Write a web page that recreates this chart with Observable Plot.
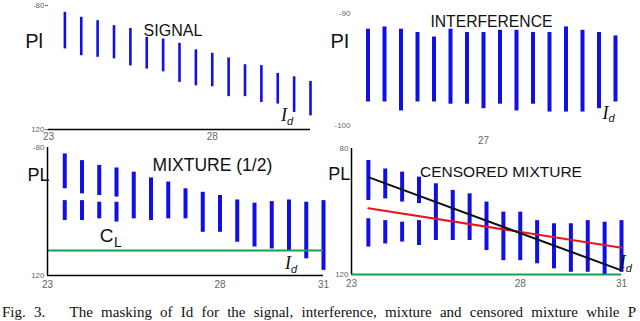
<!DOCTYPE html>
<html><head><meta charset="utf-8">
<script src="https://cdn.jsdelivr.net/npm/d3@7"></script>
<script src="https://cdn.jsdelivr.net/npm/@observablehq/plot@0.6"></script>
<style>
html,body{margin:0;padding:0;background:#fff;}
#fig{position:relative;width:640px;height:321px;overflow:hidden;background:#fff;}
.panel{position:absolute;}
#caption{position:absolute;left:2px;top:305px;width:634px;font-family:"Liberation Serif",serif;font-size:15px;line-height:15px;white-space:nowrap;text-align:justify;text-align-last:justify;color:#111;}
</style></head><body>
<div id="fig"><div id="caption">Fig. 3.&nbsp;&nbsp; The masking of Id for the signal, interference, mixture and censored mixture while P</div></div>
<script>
// ---- data ----
const xBars = [23.5, 24, 24.5, 25, 25.5, 26, 26.5, 27, 27.5, 28, 28.5, 29, 29.5, 30, 30.5, 31];

const sigTop    = [-82.2,-83.8,-84.9,-86.5,-87.4,-90.3,-90.8,-92.2,-94.3,-95.4,-96.9,-99.1,-99.4,-101.9,-103.0,-104.5];
const sigBottom = [-94.0,-96.2,-96.7,-97.2,-99.5,-100.5,-101.4,-104.8,-105.9,-106.2,-109.4,-109.4,-111.3,-111.8,-114.5,-115.6];

const intTop    = [-91.4,-91.2,-91.4,-91.7,-92.1,-91.4,-91.7,-91.7,-91.5,-91.5,-91.7,-91.7,-91.2,-91.5,-91.7,-92.0];
const intBottom = [-97.9,-97.9,-98.7,-97.9,-97.9,-98.1,-98.1,-98.5,-98.1,-98.7,-98.1,-98.8,-98.8,-98.8,-98.5,-97.9];

const mixTop       = [-82.0,-84.1,-85.6,-86.4,-87.7,-89.5,-90.8,-92.9,-94.0,-95.0,-96.4,-97.4,-96.9,-96.4,-97.1,-96.6];
const mixGapTop    = [-92.9,-94.5,-95.0,-95.5,null,null,null,null,null,null,null,null,null,null,null,null];
const mixGapBottom = [-96.6,-96.6,-97.1,-97.1,null,null,null,null,null,null,null,null,null,null,null,null];
const mixBottom    = [-102.8,-102.8,-102.3,-103.3,-102.3,-102.8,-102.3,-102.3,-106.5,-106.5,-109.6,-111.1,-111.7,-112.2,-114.8,-118.4];
const censorLevelMix = -112.2;

const cenTop       = [-83.8,-86.5,-87.5,-89.1,-91.2,-93.3,-94.4,-97.0,-100.2,-100.2,-102.9,-103.9,-103.9,-102.9,-103.4,-102.9];
const cenGapTop    = [-96.5,-96.0,-97.0,-97.5,null,null,null,null,null,null,null,null,null,null,null,null];
const cenGapBottom = [-102.3,-102.9,-103.4,-102.9,null,null,null,null,null,null,null,null,null,null,null,null];
const cenBottom    = [-111.3,-110.3,-109.7,-110.8,-109.2,-109.2,-109.2,-112.4,-115.6,-115.6,-116.6,-118.2,-119.3,-119.3,-120.0,-119.3];
const censorLevelCen = -120;

const fitX = [23.5, 31];
const fitBlack = [-89.1, -118.7];
const fitRed = [-99.0, -111.5];

const panelTitles = ["SIGNAL", "INTERFERENCE", "MIXTURE (1/2)", "CENSORED MIXTURE"];
const yLabels = ["Pl", "PI", "PL", "PL"];

const xTicksTL = [23, 28], xTickLabelsTL = ["23", "28"];
const xTicksTR = [27], xTickLabelsTR = ["27"];
const xTicksB = [23, 28, 31], xTickLabelsB = ["23", "28", "31"];
const yTicksTL = [-80, -120], yTickLabelsTL = ["-80", "120"];
const yTicksTR = [-90, -100], yTickLabelsTR = ["-90", "-100"];
const yTicksBL = [-80, -120], yTickLabelsBL = ["-80", "120"];
const yTicksBR = [-80, -120], yTickLabelsBR = ["80", "120"];

// ---- styles ----
const BLUE = "#1010e6", GREEN = "#14a050", RED = "#e8141e", TICK = "#666";
const fig = document.getElementById("fig");

function barRows(top, bottom) {
  return xBars.map((x, i) => ({x, y1: top[i], y2: bottom[i]})).filter(d => d.y1 != null && d.y2 != null);
}
function bars(top, bottom, w) {
  return Plot.ruleX(barRows(top, bottom), {x: "x", y1: "y1", y2: "y2", stroke: BLUE, strokeWidth: w});
}
function xAxis(ticks, labels, pad, fs) {
  return Plot.axisX(ticks, {label: null, tickSize: 0, tickPadding: pad, fontSize: fs, fill: TICK, tickFormat: d => labels[ticks.indexOf(d)]});
}
function yAxis(ticks, labels, size, pad) {
  return Plot.axisY(ticks, {label: null, tickSize: size, tickPadding: pad, fontSize: 8, fill: TICK, stroke: TICK, tickFormat: d => labels[ticks.indexOf(d)]});
}
function label(t, x, y, opts) {
  return Plot.text([t], Object.assign({x: [x], y: [y], text: d => d, fill: "#111"}, opts));
}
function idLabel(x, y) {
  return [
    label("I", x, y, {fontSize: 18, fontStyle: "italic", fontFamily: "'Liberation Serif', serif"}),
    label("d", x, y, {fontSize: 11, fontStyle: "italic", dx: 6, dy: 6, fontFamily: "'Liberation Sans', sans-serif"})
  ];
}
function panel(left, top, width, height, m, yDomain, marks) {
  const svg = Plot.plot({
    width, height,
    marginTop: m[0], marginRight: m[1], marginBottom: m[2], marginLeft: m[3],
    x: {domain: [23, 31], label: null},
    y: {domain: yDomain, label: null},
    style: {background: "none", fontFamily: "'Liberation Sans', Arial, sans-serif", overflow: "visible"},
    marks
  });
  const div = document.createElement("div");
  div.className = "panel";
  div.style.left = left + "px";
  div.style.top = top + "px";
  div.appendChild(svg);
  fig.appendChild(div);
}

// Top-left: SIGNAL
panel(0, 0, 320, 145, [5, 10, 16, 48], [-120, -80], [
  bars(sigTop, sigBottom, 2.6),
  Plot.ruleY([-120], {x1: 23, x2: 31, stroke: "#000", strokeWidth: 1.5}),
  xAxis(xTicksTL, xTickLabelsTL, 3, 10),
  yAxis(yTicksTL, yTickLabelsTL, 3, 1),
  label(panelTitles[0], 26.8, -88.1, {fontSize: 16}),
  label(yLabels[0], 22.56, -91.6, {fontSize: 20}),
  ...idLabel(30.19, -115.4)
]);

// Top-right: INTERFERENCE
panel(320, 0, 320, 145, [13, 25, 20, 31], [-100, -90], [
  bars(intTop, intBottom, 4),
  xAxis(xTicksTR, xTickLabelsTR, 11, 10),
  yAxis(yTicksTR, yTickLabelsTR, 0, 1),
  label(panelTitles[1], 27.24, -90.8, {fontSize: 15.7}),
  label(yLabels[1], 22.65, -92.5, {fontSize: 20}),
  ...idLabel(30.70, -98.88)
]);

// Bottom-left: MIXTURE (1/2)
panel(0, 140, 330, 160, [7, 7, 25, 47], [-120, -80], [
  bars(mixTop, mixGapTop, 4),
  bars(mixGapBottom, mixBottom, 4),
  bars(mixTop.map((v, i) => mixGapTop[i] == null ? v : null), mixBottom, 4),
  Plot.ruleY([censorLevelMix], {x1: 23, x2: 31, stroke: GREEN, strokeWidth: 2}),
  Plot.ruleY([-120], {x1: 23, x2: 31, stroke: "#000", strokeWidth: 1.5}),
  Plot.ruleX([23], {y1: -80, y2: -120, stroke: "#000", strokeWidth: 1.5}),
  xAxis(xTicksB, xTickLabelsB, 5, 10),
  yAxis(yTicksBL, yTickLabelsBL, 0, 3),
  label(panelTitles[2], 27.78, -85.6, {fontSize: 17.5}),
  label(yLabels[2], 22.74, -88.75, {fontSize: 18}),
  label("C", 24.71, -107.5, {fontSize: 19}),
  label("L", 24.71, -107.5, {fontSize: 14, dx: 11.5, dy: 7}),
  ...idLabel(29.97, -116.25)
]);

// Bottom-right: CENSORED MIXTURE
panel(320, 140, 320, 160, [8, 19, 26, 31], [-120, -80], [
  bars(cenTop, cenGapTop, 4),
  bars(cenGapBottom, cenBottom, 4),
  bars(cenTop.map((v, i) => cenGapTop[i] == null ? v : null), cenBottom, 4),
  Plot.ruleY([censorLevelCen], {x1: 23, x2: 31, stroke: GREEN, strokeWidth: 2}),
  Plot.ruleX([23], {y1: -80, y2: -120, stroke: "#000", strokeWidth: 1.5}),
  Plot.line(fitX.map((x, i) => ({x, y: fitRed[i]})), {x: "x", y: "y", stroke: RED, strokeWidth: 2}),
  Plot.line(fitX.map((x, i) => ({x, y: fitBlack[i]})), {x: "x", y: "y", stroke: "#111", strokeWidth: 2}),
  xAxis(xTicksB, xTickLabelsB, 5, 10),
  yAxis(yTicksBR, yTickLabelsBR, 0, 3),
  label(panelTitles[3], 27.43, -87.6, {fontSize: 15.5}),
  label(yLabels[3], 22.64, -88.25, {fontSize: 18}),
  ...idLabel(31.04, -116.2)
]);
</script>
</body></html>
